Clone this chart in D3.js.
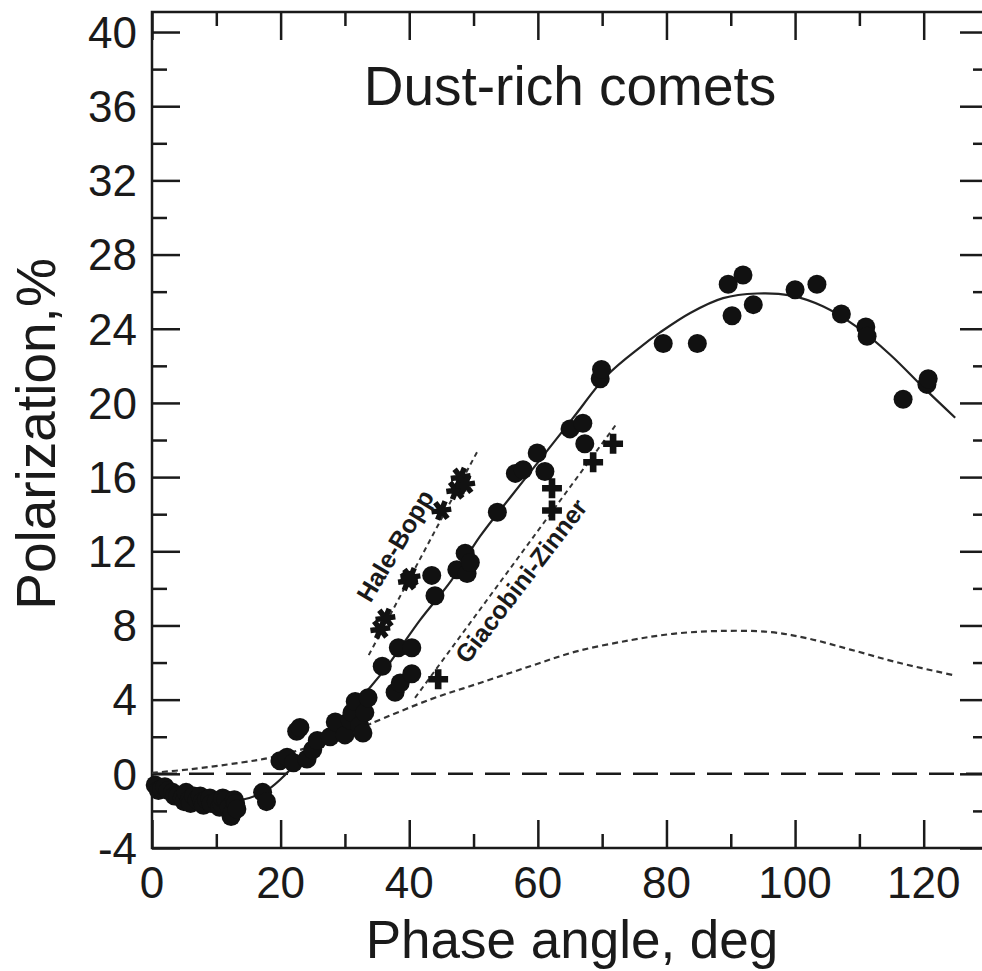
<!DOCTYPE html>
<html>
<head>
<meta charset="utf-8">
<script src="https://cdn.jsdelivr.net/npm/d3@7"></script>
<style>
  body { margin: 0; background: #fff; }
  svg { display: block; font-family: "Liberation Sans", Arial, sans-serif; }
</style>
</head>
<body>
<div id="chart"></div>
<script>
// dust-rich comets: phase angle (deg) vs polarization (%)
const dotPhase = [0.5, 1, 1.5, 2, 2.5, 3.2, 3.5, 4, 4.7, 5, 5.3, 5.8, 6, 6.5, 7, 7.5, 7.8, 8, 8.5, 9, 9.2, 10, 10.5, 10.8, 11, 11.5, 12, 12.3, 12.5, 12.8, 13, 13.2, 17.2, 17.8,
  19.9, 21, 22, 22.5, 23, 24.1, 25, 25.7, 27.7, 28.5, 30, 30.8, 31.1, 31.6, 32.3, 32.8, 33.1, 33.6,
  35.8, 37.8, 38.3, 38.6, 40.4, 40.4, 43.5, 44, 47.4, 48.7, 49, 49.5, 53.7, 56.5, 57.7, 59.9, 61.1,
  65, 67, 67.3, 69.7, 69.9, 79.5, 84.8, 89.6, 91.9, 90.2, 93.5, 100, 103.4, 107.2, 111, 111.2, 116.8, 120.5, 120.7]
const dotPol = [-0.6, -0.9, -0.8, -0.7, -0.9, -1.0, -1.2, -1.2, -1.3, -1.5, -1.0, -1.4, -1.6, -1.2, -1.4, -1.2, -1.5, -1.7, -1.4, -1.3, -1.6, -1.5, -1.8, -1.6, -1.3, -1.4, -1.8, -2.3, -2.1, -1.4, -1.6, -1.9, -1.0, -1.5,
  0.7, 0.9, 0.6, 2.3, 2.5, 0.8, 1.3, 1.8, 2.0, 2.8, 2.1, 2.9, 3.3, 3.9, 2.6, 2.2, 3.3, 4.1,
  5.8, 4.4, 6.8, 4.9, 6.8, 5.4, 10.7, 9.6, 11.0, 11.9, 10.8, 11.4, 14.1, 16.2, 16.4, 17.3, 16.3,
  18.6, 18.9, 17.8, 21.3, 21.8, 23.2, 23.2, 26.4, 26.9, 24.7, 25.3, 26.1, 26.4, 24.8, 24.1, 23.6, 20.2, 21.0, 21.3]

// Hale-Bopp (asterisks) and Giacobini-Zinner (crosses)
const hbPhase = [35.5, 36.3, 39.8, 40.2, 45, 47.3, 48, 48.7]
const hbPol = [7.8, 8.4, 10.4, 10.6, 14.2, 15.3, 16.0, 15.6]
const gzPhase = [44.5, 62.2, 62.2, 68.6, 71.7]
const gzPol = [5.1, 15.4, 14.2, 16.8, 17.8]

// trend lines through each comet
const hbLinePhase = [33.7, 50.7]
const hbLinePol = [6.4, 17.45]
const gzLinePhase = [40.9, 72.3]
const gzLinePol = [4.1, 18.9]

// solid fit curve
const fitPhase = [0, 5, 10, 14, 18, 21, 25, 30, 34, 37, 41.7, 46.5, 51, 55.7, 61.4, 65.5, 70.8, 75.9, 79, 83.7, 88.8, 94.1, 99.2, 104.4, 109.6, 114.8, 119.9, 124.9]
const fitPol = [-0.1, -0.9, -1.4, -1.4, -0.85, 0.05, 1.6, 3.2, 4.7, 6.0, 8.3, 10.4, 12.8, 14.9, 17.4, 19.2, 21.5, 23.0, 23.8, 24.85, 25.65, 25.9, 25.8, 25.2, 24.1, 22.6, 20.85, 19.2]

// lower dotted curve
const lowPhase = [0, 6, 13.7, 18.8, 25, 30, 34, 43.2, 51, 58.8, 66, 74.3, 81, 88, 96, 102, 108.6, 116, 124.9]
const lowPol = [0.05, 0.25, 0.6, 0.9, 1.5, 2.1, 2.7, 4.0, 4.9, 5.8, 6.6, 7.2, 7.55, 7.7, 7.65, 7.3, 6.7, 6.0, 5.3]

const xTicks = [0, 20, 40, 60, 80, 100, 120]
const xMinor = [10, 30, 50, 70, 90, 110, 130]
const yTicks = [-4, 0, 4, 8, 12, 16, 20, 24, 28, 32, 36, 40]
const yMinor = [-2, 2, 6, 10, 14, 18, 22, 26, 30, 34, 38]

const width = 982, height = 971
const mLeft = 152, mRight = 988, mTop = 12, mBottom = 848

const x = d3.scaleLinear().domain([0, 130]).range([mLeft, mRight])
const y = d3.scaleLinear().domain([-4, 41.08]).range([mBottom, mTop])

const svg = d3.select("#chart").append("svg")
  .attr("width", width)
  .attr("height", height)

const ink = "#1a1a1a"
const fs = 44
const zip = (a, b) => a.map((v, i) => [v, b[i]])

//坐标轴：四边都是向内的刻度
function tickAxis(axisFn, scale, values, len, pos, isX) {
  let g = svg.append("g")
    .attr("transform", isX ? `translate(0,${pos})` : `translate(${pos},0)`)
    .call(axisFn(scale).tickValues(values).tickSize(len).tickFormat(""))
  g.select(".domain").remove()
  g.selectAll("line").attr("stroke", ink).attr("stroke-width", 2.5)
}
tickAxis(d3.axisBottom, x, xTicks, -28, mBottom, true)
tickAxis(d3.axisBottom, x, xMinor, -14, mBottom, true)
tickAxis(d3.axisTop, x, xTicks, -28, mTop, true)
tickAxis(d3.axisTop, x, xMinor, -14, mTop, true)
tickAxis(d3.axisLeft, y, yTicks, -28, mLeft, false)
tickAxis(d3.axisLeft, y, yMinor, -15, mLeft, false)
tickAxis(d3.axisRight, y, yTicks, -28, mRight, false)
tickAxis(d3.axisRight, y, yMinor, -15, mRight, false)

svg.append("rect")
  .attr("x", mLeft).attr("y", mTop)
  .attr("width", mRight - mLeft).attr("height", mBottom - mTop)
  .attr("fill", "none").attr("stroke", ink).attr("stroke-width", 2.5)

// tick labels
svg.append("g").selectAll("text")
  .data(xTicks)
  .enter()
  .append("text")
  .attr("x", d => x(d))
  .attr("y", 898)
  .attr("text-anchor", "middle")
  .attr("font-size", fs)
  .attr("fill", ink)
  .text(d => d)

svg.append("g").selectAll("text")
  .data(yTicks)
  .enter()
  .append("text")
  .attr("x", 137)
  .attr("y", d => y(d) + fs * 0.36)
  .attr("text-anchor", "end")
  .attr("font-size", fs)
  .attr("fill", ink)
  .text(d => d)

// axis titles and chart title
svg.append("text")
  .attr("x", 572).attr("y", 958)
  .attr("text-anchor", "middle")
  .attr("font-size", 53)
  .attr("fill", ink)
  .text("Phase angle, deg")

svg.append("text")
  .attr("transform", `translate(55,434) rotate(-90)`)
  .attr("text-anchor", "middle")
  .attr("font-size", 55)
  .attr("fill", ink)
  .text("Polarization,%")

svg.append("text")
  .attr("x", 570).attr("y", 105)
  .attr("text-anchor", "middle")
  .attr("font-size", 55)
  .attr("fill", ink)
  .text("Dust-rich comets")

// zero line
svg.append("line")
  .attr("x1", mLeft).attr("x2", mRight)
  .attr("y1", y(0)).attr("y2", y(0))
  .attr("stroke", ink).attr("stroke-width", 2.5)
  .attr("stroke-dasharray", "25,12")

const line = d3.line().x(d => x(d[0])).y(d => y(d[1]))
const smooth = d3.line().x(d => x(d[0])).y(d => y(d[1])).curve(d3.curveCatmullRom)

// lower dotted curve
svg.append("path")
  .datum(zip(lowPhase, lowPol))
  .attr("d", smooth)
  .attr("fill", "none").attr("stroke", "#333").attr("stroke-width", 2.2)
  .attr("stroke-dasharray", "6,4")

// comet trend lines
;[[hbLinePhase, hbLinePol], [gzLinePhase, gzLinePol]].forEach(([p, q]) => {
  svg.append("path")
    .datum(zip(p, q))
    .attr("d", line)
    .attr("fill", "none").attr("stroke", "#333").attr("stroke-width", 2)
    .attr("stroke-dasharray", "5,4")
})

// solid fit
svg.append("path")
  .datum(zip(fitPhase, fitPol))
  .attr("d", smooth)
  .attr("fill", "none").attr("stroke", "#222").attr("stroke-width", 2.2)

// dots
svg.append("g").selectAll("circle")
  .data(zip(dotPhase, dotPol))
  .enter()
  .append("circle")
  .attr("cx", d => x(d[0]))
  .attr("cy", d => y(d[1]))
  .attr("r", 9.5)
  .attr("fill", "#111")

// Hale-Bopp asterisks
svg.append("g").selectAll("path")
  .data(zip(hbPhase, hbPol))
  .enter()
  .append("path")
  .attr("d", d3.symbol(d3.symbolAsterisk, 280))
  .attr("transform", d => `translate(${x(d[0])},${y(d[1])}) rotate(22)`)
  .attr("fill", "none").attr("stroke", "#111").attr("stroke-width", 5.5)

// Giacobini-Zinner crosses
svg.append("g").selectAll("path")
  .data(zip(gzPhase, gzPol))
  .enter()
  .append("path")
  .attr("d", d3.symbol(d3.symbolCross, 220))
  .attr("transform", d => `translate(${x(d[0])},${y(d[1])})`)
  .attr("fill", "#111")

// rotated comet names
svg.append("text")
  .attr("transform", `translate(${x(37.8)},${y(12.3)}) rotate(-59)`)
  .attr("text-anchor", "middle")
  .attr("dy", "0.35em")
  .attr("font-size", 25)
  .attr("font-weight", "bold")
  .attr("fill", ink)
  .text("Hale-Bopp")

svg.append("text")
  .attr("transform", `translate(${x(57.4)},${y(10.4)}) rotate(-52.5)`)
  .attr("text-anchor", "middle")
  .attr("dy", "0.35em")
  .attr("font-size", 25)
  .attr("font-weight", "bold")
  .attr("fill", ink)
  .text("Giacobini-Zinner")
</script>
</body>
</html>
